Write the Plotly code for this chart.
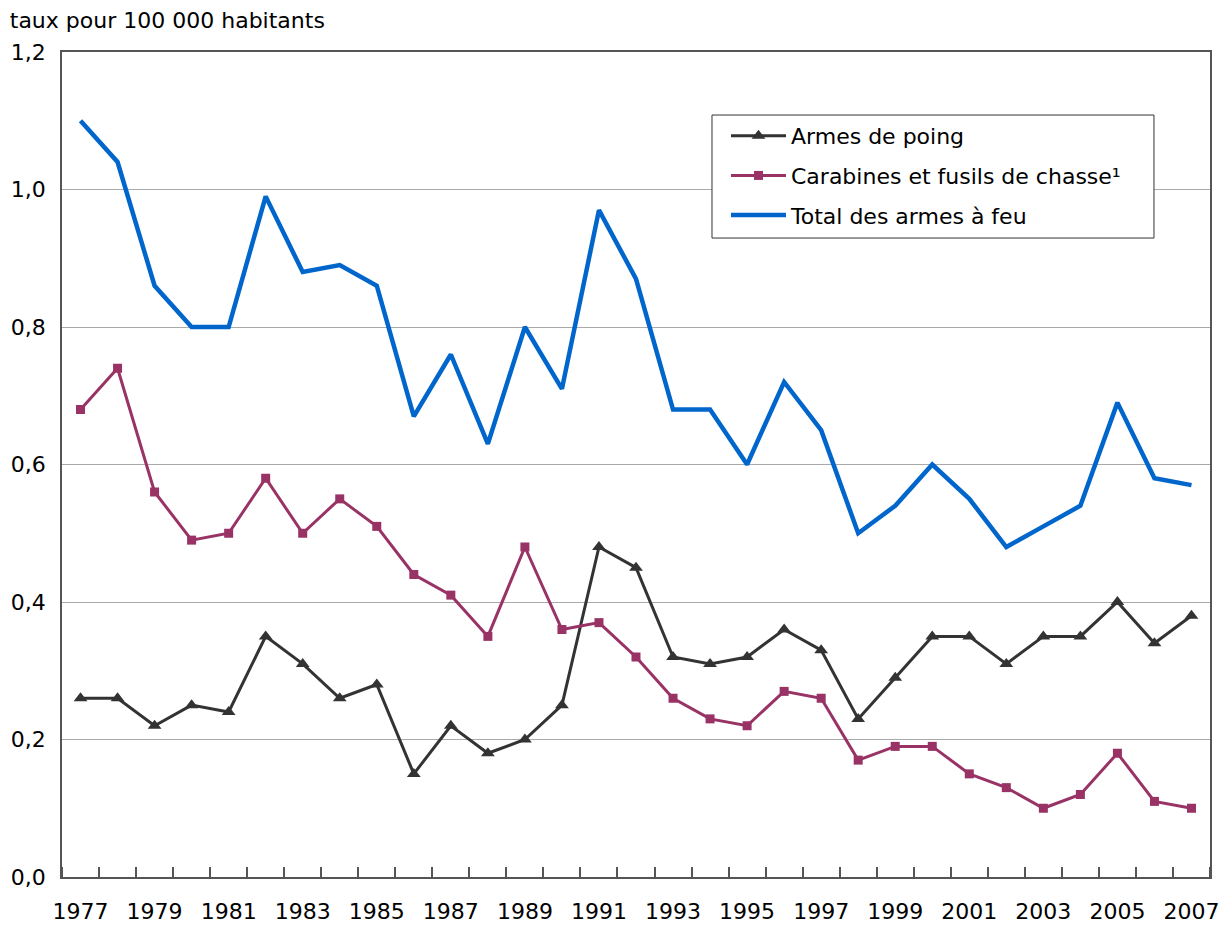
import plotly.graph_objects as go

years = list(range(1977, 2008))
armes_de_poing = [0.26, 0.26, 0.22, 0.25, 0.24, 0.35, 0.31, 0.26, 0.28, 0.15,
                  0.22, 0.18, 0.20, 0.25, 0.48, 0.45, 0.32, 0.31, 0.32, 0.36,
                  0.33, 0.23, 0.29, 0.35, 0.35, 0.31, 0.35, 0.35, 0.40, 0.34, 0.38]
carabines = [0.68, 0.74, 0.56, 0.49, 0.50, 0.58, 0.50, 0.55, 0.51, 0.44,
             0.41, 0.35, 0.48, 0.36, 0.37, 0.32, 0.26, 0.23, 0.22, 0.27,
             0.26, 0.17, 0.19, 0.19, 0.15, 0.13, 0.10, 0.12, 0.18, 0.11, 0.10]
total = [1.10, 1.04, 0.86, 0.80, 0.80, 0.99, 0.88, 0.89, 0.86, 0.67,
         0.76, 0.63, 0.80, 0.71, 0.97, 0.87, 0.68, 0.68, 0.60, 0.72,
         0.65, 0.50, 0.54, 0.60, 0.55, 0.48, 0.51, 0.54, 0.69, 0.58, 0.57]
year_labels = [str(y) for y in range(1977, 2008, 2)]
y_ticks = [0.0, 0.2, 0.4, 0.6, 0.8, 1.0, 1.2]

FONT = "DejaVu Sans"

fig = go.Figure()
fig.add_trace(go.Scatter(
    x=years, y=armes_de_poing, name="Armes de poing", mode="lines+markers",
    line=dict(color="#333333", width=3),
    marker=dict(symbol="triangle-up", size=12, color="#333333"),
    legendgroup="a"))
fig.add_trace(go.Scatter(
    x=years, y=carabines, name="Carabines et fusils de chasse¹", mode="lines+markers",
    line=dict(color="#993366", width=3),
    marker=dict(symbol="square", size=9, color="#993366"),
    legendgroup="b"))
fig.add_trace(go.Scatter(
    x=years, y=total, name="Total des armes à feu", mode="lines",
    line=dict(color="#0066CC", width=4.5),
    legendgroup="c"))

# legend frame (drawn as a shape so it can be wider than the legend text)
fig.add_shape(type="rect", xref="paper", yref="paper",
              x0=0.5662, x1=0.9512, y0=0.7745, y1=0.9236,
              line=dict(color="#333333", width=1), fillcolor="white", layer="above")

fig.update_layout(
    width=1222, height=926,
    margin=dict(l=62, r=12, t=52, b=49, autoexpand=False),
    paper_bgcolor="white", plot_bgcolor="white",
    separators=", ",
    font=dict(family=FONT, size=22, color="#000000"),
    title=dict(text="taux pour 100 000 habitants", x=0.008, xanchor="left",
               y=0.978, yanchor="middle", font=dict(family=FONT, size=22, color="#000")),
    showlegend=True,
    legend=dict(x=0.5784, y=0.9236, xanchor="left", yanchor="top",
                borderwidth=0, bgcolor="rgba(0,0,0,0)",
                font=dict(family=FONT, size=22), tracegroupgap=8,
                itemwidth=55),
    xaxis=dict(range=[1976.5, 2007.5], tickmode="array",
               tickvals=[int(v) for v in year_labels], ticktext=year_labels,
               ticks="", showgrid=False, zeroline=False, automargin=False,
               showline=True, linecolor="#555555", linewidth=1.5, mirror=True,
               ticklabelstandoff=14,
               minor=dict(tick0=1976.5, dtick=1, ticks="inside", ticklen=10,
                          tickcolor="#555555", tickwidth=1.5, showgrid=False)),
    yaxis=dict(range=[0, 1.2], tickmode="array", tickvals=y_ticks,
               tickformat=".1f", ticks="", showgrid=True, gridcolor="#AAAAAA",
               gridwidth=1, zeroline=False, automargin=False,
               showline=True, linecolor="#555555", linewidth=1.5, mirror=True,
               ticklabelstandoff=10),
)

fig.write_html("out.html", config={"displayModeBar": False},
               post_script="document.body.style.margin='0';document.body.style.overflow='hidden';")
